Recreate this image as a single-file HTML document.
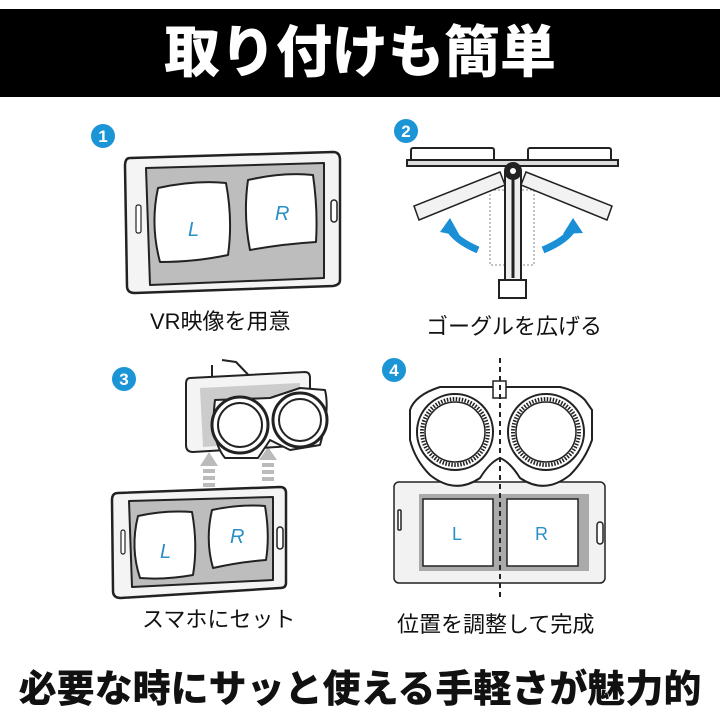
<!DOCTYPE html>
<html><head><meta charset="utf-8"><style>
html,body{margin:0;padding:0;background:#fff}
body{width:720px;height:720px;position:relative;overflow:hidden;font-family:"Liberation Sans","Noto Sans CJK JP",sans-serif}
.t{position:absolute;white-space:nowrap}
</style></head><body>
<div style="position:absolute;left:0;top:9px;width:720px;height:88px;background:#000"></div>
<div class="t" style="left:0;width:720px;top:17px;text-align:center;color:#fff;font-size:56px;font-weight:900;letter-spacing:0px;line-height:72px">取り付けも簡単</div>

<svg width="720" height="720" style="position:absolute;left:0;top:0" xmlns="http://www.w3.org/2000/svg">
<g font-family="Liberation Sans, sans-serif" font-weight="bold" font-size="17" fill="#fff" text-anchor="middle">
<circle cx="103" cy="136" r="12" fill="#1b95d6"/><text x="103" y="142">1</text>
<circle cx="406" cy="131" r="12" fill="#1b95d6"/><text x="406" y="137">2</text>
<circle cx="124" cy="379" r="12" fill="#1b95d6"/><text x="124" y="385">3</text>
<circle cx="394" cy="370" r="12" fill="#1b95d6"/><text x="394" y="376">4</text>
</g>

<!-- phone 1 -->
<g stroke="#222" stroke-width="2.5" fill="#f4f4f4" stroke-linejoin="round">
<path d="M130,158 L333,152 Q340,152 340,160 L340,280 Q340,285 333,286 L135,293 Q127,293 127,286 L125,166 Q125,158 130,158z"/>
<path d="M146,168 L324,163 L324,278 L150,285z" fill="#bdbdbd" stroke-width="2"/>
<path d="M158,188 Q195,180 226,183 Q233,220 228,255 Q195,262 160,262 Q150,225 158,188z" fill="#fff" stroke-width="2"/>
<path d="M248,180 Q283,172 313,175 Q318,210 316,242 Q283,244 250,250 Q243,215 248,180z" fill="#fff" stroke-width="2"/>
<rect x="331" y="200" width="6" height="22" rx="3" fill="#fff" stroke-width="1.5"/>
<rect x="136" y="205" width="5" height="28" rx="2" fill="#fff" stroke-width="1.2"/>
</g>
<text x="188" y="236" font-size="20" font-style="italic" fill="#2a8fc9" font-family="Liberation Sans, sans-serif">L</text>
<text x="275" y="220" font-size="20" font-style="italic" fill="#2a8fc9" font-family="Liberation Sans, sans-serif">R</text>

<!-- goggle 2 -->
<g stroke="#222" stroke-width="2" fill="#fff">
<rect x="411" y="148" width="83" height="13" rx="2"/>
<rect x="528" y="148" width="83" height="13" rx="2"/>
<rect x="407" y="160" width="211" height="6" fill="#ddd"/>
<rect x="490" y="190" width="44" height="75" fill="none" stroke="#888" stroke-dasharray="2,2" stroke-width="1"/>
<path d="M500,172 L414,206 L419,220 L505,185z" fill="#f2f2f2" stroke-width="1.5"/>
<path d="M526,172 L612,206 L607,220 L521,185z" fill="#f2f2f2" stroke-width="1.5"/>
<rect x="505" y="172" width="16" height="108" fill="#eee"/>
<line x1="513" y1="175" x2="513" y2="278" stroke-width="3"/>
<rect x="499" y="280" width="27" height="18" fill="#fff"/>
<circle cx="513" cy="171" r="8" fill="#222"/>
<circle cx="513" cy="171" r="3" fill="#fff" stroke="none"/>
</g>
<path d="M478,250 Q455,240 449,228" stroke="#1a8fd6" stroke-width="7" fill="none"/>
<path d="M440,232 L450,218 L460,236z" fill="#1a8fd6"/>
<path d="M543,250 Q567,240 573,228" stroke="#1a8fd6" stroke-width="7" fill="none"/>
<path d="M563,234 L573,218 L583,233z" fill="#1a8fd6"/>

<g fill="#bbb">
<path d="M200,466 L209,452 L218,466z"/><rect x="203" y="469" width="12" height="4"/><rect x="203" y="476" width="12" height="4"/><rect x="203" y="483" width="12" height="4"/>
<path d="M259,460 L268,447 L277,460z"/><rect x="262" y="463" width="12" height="4"/><rect x="262" y="470" width="12" height="4"/><rect x="262" y="477" width="12" height="4"/>
</g>
<g stroke="#222" stroke-width="2" fill="#f4f4f4" stroke-linejoin="round">
<path d="M212,365 L212,380 M222,360 L236,362 L258,385" fill="none"/>
<path d="M190,378 L305,372 Q310,372 310,378 L310,445 L193,452 Q186,452 186,445 L186,384 Q186,378 190,378z"/>
<path d="M200,388 L300,383 L300,440 L203,447z" fill="#ccc" stroke="none"/>
<path d="M215,400 L270,398 L300,388 L325,390 Q330,410 320,445 L290,450 L270,440 L258,458 L225,458 Q210,440 215,400z" fill="#fff"/>
<circle cx="240" cy="425" r="28" fill="#fff" stroke-width="3"/>
<circle cx="240" cy="425" r="22" fill="#fff"/>
<circle cx="300" cy="420" r="27" fill="#fff" stroke-width="3"/>
<circle cx="300" cy="420" r="21" fill="#fff"/>
</g>
<g stroke="#222" stroke-width="2.5" fill="#f4f4f4" stroke-linejoin="round">
<path d="M118,493 L280,487 Q286,487 286,493 L286,583 Q286,588 280,588 L121,598 Q113,598 113,591 L112,500 Q112,493 118,493z"/>
<path d="M129,501 L273,497 L273,580 L132,587z" fill="#bdbdbd" stroke-width="2"/>
<path d="M138,516 Q165,510 192,512 Q198,545 193,575 Q165,580 140,578 Q130,548 138,516z" fill="#fff" stroke-width="2"/>
<path d="M212,510 Q240,504 265,506 Q270,535 266,560 Q240,562 213,568 Q205,540 212,510z" fill="#fff" stroke-width="2"/>
<rect x="277" y="527" width="6" height="22" rx="3" fill="#fff" stroke-width="1.5"/>
<rect x="121" y="530" width="4" height="24" rx="2" fill="#fff" stroke-width="1.2"/>
</g>
<text x="160" y="558" font-size="20" font-style="italic" fill="#2a8fc9" font-family="Liberation Sans, sans-serif">L</text>
<text x="230" y="543" font-size="20" font-style="italic" fill="#2a8fc9" font-family="Liberation Sans, sans-serif">R</text>

<g stroke="#222" stroke-width="1.5">
<rect x="394" y="482" width="211" height="101" rx="5" fill="#f2f2f2"/>
<rect x="419" y="494" width="170" height="77" fill="#aaa" stroke="none"/>
<rect x="423" y="499" width="70" height="67" fill="#fff"/>
<rect x="507" y="499" width="71" height="67" fill="#fff"/>
<rect x="398" y="510" width="3" height="20" rx="1" fill="#fff"/>
<rect x="597" y="522" width="6" height="22" rx="3" fill="#fff"/>
<path d="M440,387 L560,387 Q575,390 585,400 L592,410 L592,440 Q585,460 570,475 Q545,495 520,478 Q510,462 500,458 Q490,462 480,478 Q455,495 430,475 Q415,460 410,440 L410,410 Q415,395 440,387z" fill="#fff" stroke-width="2"/>
<circle cx="455" cy="432" r="38" fill="#fff" stroke-width="2"/>
<circle cx="455" cy="432" r="33" fill="none" stroke-width="4" stroke-dasharray="1.5,1.5"/>
<circle cx="455" cy="432" r="30" fill="#fff" stroke-width="1.5"/>
<circle cx="546" cy="432" r="38" fill="#fff" stroke-width="2"/>
<circle cx="546" cy="432" r="33" fill="none" stroke-width="4" stroke-dasharray="1.5,1.5"/>
<circle cx="546" cy="432" r="30" fill="#fff" stroke-width="1.5"/>
<rect x="493" y="381" width="13" height="17" fill="#fff"/>
</g>
<line x1="500" y1="358" x2="500" y2="600" stroke="#222" stroke-width="2" stroke-dasharray="5,4"/>
<text x="452" y="540" font-size="18" fill="#2a8fc9" font-family="Liberation Sans, sans-serif">L</text>
<text x="535" y="540" font-size="18" fill="#2a8fc9" font-family="Liberation Sans, sans-serif">R</text>
</svg>

<div class="t" style="left:150px;top:304px;font-size:22px;color:#111">VR映像を用意</div>
<div class="t" style="left:426px;top:309px;font-size:22px;color:#111">ゴーグルを広げる</div>
<div class="t" style="left:142px;top:602px;font-size:22px;color:#111">スマホにセット</div>
<div class="t" style="left:397px;top:607px;font-size:22px;color:#111">位置を調整して完成</div>
<div class="t" style="left:0;width:720px;top:664px;text-align:center;font-size:38px;font-weight:900;color:#111;line-height:52px">必要な時にサッと使える手軽さが魅力的</div>
</body></html>
